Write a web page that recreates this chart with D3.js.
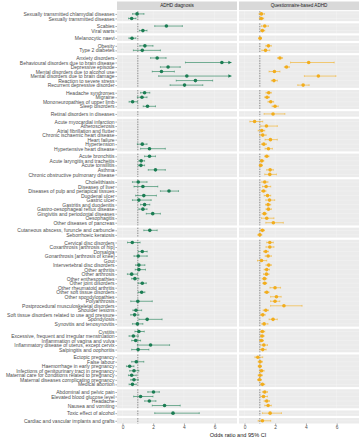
<!DOCTYPE html>
<html>
<head>
<meta charset="utf-8">
<script src="https://cdn.jsdelivr.net/npm/d3@7"></script>
<style>
  body { margin: 0; background: #fff; }
  text { font-family: "Liberation Sans", Arial, sans-serif; }
</style>
</head>
<body>
<div id="chart"></div>
<script>
// condition groups (one facet row each)
const groups = [
  ["Sexually transmitted chlamydial diseases", "Sexually transmitted diseases"],
  ["Scabies", "Viral warts"],
  ["Melanocytic naevi"],
  ["Obesity", "Type 2 diabetes"],
  ["Anxiety disorders", "Behavioural disorders due to brain disease", "Depressive episode",
   "Mental disorders due to alcohol use", "Mental disorders due to brain damage",
   "Reaction to severe stress", "Recurrent depressive disorder"],
  ["Headache syndromes", "Migraine", "Mononeuropathies of upper limb", "Sleep disorders"],
  ["Retinal disorders in diseases"],
  ["Acute myocardial infarction", "Atherosclerosis", "Atrial fibrillation and flutter",
   "Chronic ischaemic heart disease", "Heart failure", "Hypertension", "Hypertensive heart disease"],
  ["Acute bronchitis", "Acute laryngitis and tracheitis", "Acute tonsillitis", "Asthma",
   "Chronic obstructive pulmonary disease"],
  ["Cholelithiasis", "Diseases of liver", "Diseases of pulp and periapical tissues", "Duodenal ulcer",
   "Gastric ulcer", "Gastritis and duodenitis", "Gastro-oesophageal reflux disease",
   "Gingivitis and periodontal diseases", "Oesophagitis", "Other diseases of pancreas"],
  ["Cutaneous abscess, furuncle and carbuncle", "Seborrhoeic keratosis"],
  ["Cervical disc disorders", "Coxarthrosis [arthrosis of hip]", "Dorsalgia",
   "Gonarthrosis [arthrosis of knee]", "Gout", "Intervertebral disc disorders", "Other arthritis",
   "Other arthrosis", "Other enthesopathies", "Other joint disorders", "Other rheumatoid arthritis",
   "Other soft tissue disorders", "Other spondylopathies", "Polyarthrosis",
   "Postprocedural musculoskeletal disorders", "Shoulder lesions",
   "Soft tissue disorders related to use and pressure", "Spondylosis", "Synovitis and tenosynovitis"],
  ["Cystitis", "Excessive, frequent and irregular menstruation", "Inflammation of vagina and vulva",
   "Inflammatory disease of uterus, except cervix", "Salpingitis and oophoritis"],
  ["Ectopic pregnancy", "False labour", "Haemorrhage in early pregnancy",
   "Infections of genitourinary tract in pregnancy", "Maternal care for conditions related to pregnancy",
   "Maternal diseases complicating pregnancy", "Medical abortion"],
  ["Abdominal and pelvic pain", "Elevated blood glucose level", "Headache", "Nausea and vomiting"],
  ["Toxic effect of alcohol"],
  ["Cardiac and vascular implants and grafts"]
];

const panelNames = ["ADHD diagnosis", "Questionnaire-based ADHD"];

// ADHD diagnosis: odds ratio, lower and upper 95% CI (null = not estimated)
const adhdOR = [0.95, 0.6, 2.86, 1.33, 0.62, 1.46, 1.29,
  2.26, 6.47, 2.97, 2.54, 4.19, 4.75, 4.04,
  1.44, 1.27, 0.66, 1.63, null,
  null, null, null, null, null, 1.29, 1.76,
  1.76, 1.22, 1.2, 2.15, null,
  1.03, 1.33, 3.03, 1.39, 1.07, 1.44, 1.33, 1.97, null, null,
  1.78, null,
  0.64, null, 1.29, 1.03, null, 1.07, 1.07, 0.6, 0.81, 1.29, null, 1.25, null, 1.0, null, 0.88, 0.79, 1.61, 0.97,
  1.07, 0.71, 0.86, 1.83, 1.02,
  null, 0.9, 0.47, 0.75, 0.6, 0.75, 0.65,
  2.02, 1.18, 1.75, 2.74,
  3.29, null];
const adhdLo = [0.66, 0.4, 2.1, 1.1, 0.42, 1.13, 0.71,
  1.83, 4.1, 2.47, 1.94, 2.36, 3.5, 3.1,
  1.18, 0.97, 0.43, 1.35, null,
  null, null, null, null, null, 0.97, 1.18,
  1.44, 1.07, 1.02, 1.68, null,
  0.65, 0.75, 2.47, 0.86, 0.65, 1.18, 1.07, 1.55, null, null,
  1.39, null,
  0.33, null, 1.03, 0.75, null, 0.86, 0.83, 0.32, 0.6, 1.03, null, 1.03, null, 0.54, null, 0.68, 0.54, 1.07, 0.65,
  0.81, 0.43, 0.6, 0.97, 0.6,
  null, 0.6, 0.26, 0.47, 0.39, 0.54, 0.43,
  1.65, 0.73, 1.45, 1.94,
  2.1, null];
const adhdHi = [1.4, 0.88, 3.9, 1.6, 0.87, 1.99, 2.47,
  2.84, 8.5, 3.76, 3.38, 8.5, 5.87, 5.23,
  1.78, 1.6, 0.97, 2.15, null,
  null, null, null, null, null, 1.6, 2.79,
  2.15, 1.44, 1.44, 2.79, null,
  1.6, 2.3, 3.65, 2.21, 1.87, 1.78, 1.6, 2.47, null, null,
  2.26, null,
  1.15, null, 1.61, 1.61, null, 1.46, 1.5, 0.97, 1.07, 1.55, null, 1.46, null, 1.94, null, 1.25, 1.07, 2.58, 1.33,
  1.42, 1.03, 1.18, 3.07, 1.72,
  null, 1.39, 0.75, 1.07, 0.9, 1.03, 0.9,
  2.4, 1.99, 2.18, 3.76,
  5.0, null];

// Questionnaire-based ADHD
const qOR = [1.1, 1.1, 1.32, 1.17, 1.02, 1.56, 1.37,
  2.31, 4.18, 2.74, 1.95, 4.81, 1.92, 3.82,
  1.58, 1.47, 1.71, 1.99, 1.86,
  0.66, 1.43, 1.13, 1.19, 1.69, 1.26, 1.56,
  1.45, 1.13, 1.06, 1.67, 1.65,
  1.32, 1.41, 1.24, 1.5, 1.63, 1.54, 1.56, 1.3, 1.45, 1.88,
  1.17, 1.0,
  1.65, 1.65, 1.39, 1.54, 1.11, 1.58, 1.45, 1.43, 1.3, 1.32, 1.99, 1.45, 2.08, 1.99, 2.57, 1.39, 1.19, 1.86, 1.28,
  1.17, 1.15, 1.11, 1.26, 1.19,
  0.87, 1.02, 1.0, 1.11, 1.02, 0.98, 1.17,
  1.32, 1.24, 1.45, 1.54,
  1.67, 1.17];
const qLo = [0.95, 0.97, 1.1, 1.06, 0.95, 1.39, 1.13,
  2.16, 3.0, 2.6, 1.6, 3.9, 1.75, 3.47,
  1.4, 1.32, 1.53, 1.8, 1.28,
  0.35, 1.06, 0.89, 1.0, 1.34, 1.11, 1.34,
  1.32, 1.03, 0.97, 1.45, 1.32,
  1.13, 1.17, 1.11, 1.28, 1.39, 1.37, 1.4, 1.15, 1.11, 1.39,
  1.04, 0.87,
  1.45, 1.4, 1.24, 1.35, 0.85, 1.4, 1.28, 1.24, 1.15, 1.2, 1.66, 1.3, 1.7, 1.7, 1.7, 1.22, 1.04, 1.6, 1.13,
  1.04, 1.04, 0.99, 1.06, 1.02,
  0.68, 0.89, 0.89, 0.97, 0.89, 0.85, 1.06,
  1.17, 1.06, 1.28, 1.32,
  1.17, 0.89];
const qHi = [1.3, 1.25, 1.56, 1.32, 1.1, 1.75, 1.65,
  2.48, 5.84, 2.92, 2.31, 5.95, 2.14, 4.21,
  1.75, 1.63, 1.9, 2.2, 2.63,
  1.19, 2.14, 1.32, 1.41, 2.14, 1.43, 1.82,
  1.6, 1.26, 1.16, 1.88, 2.08,
  1.53, 1.71, 1.4, 1.71, 1.97, 1.71, 1.75, 1.45, 1.92, 2.53,
  1.3, 1.13,
  1.88, 1.92, 1.56, 1.75, 1.45, 1.75, 1.63, 1.6, 1.45, 1.45, 2.35, 1.6, 2.39, 2.3, 3.75, 1.56, 1.35, 2.14, 1.53,
  1.32, 1.28, 1.24, 1.5, 1.41,
  1.19, 1.17, 1.11, 1.28, 1.17, 1.11, 1.32,
  1.5, 1.5, 1.63, 1.75,
  2.41, 1.71];

const xTicks = [0, 2, 4, 6];
const xLimit = 7.1;   // CIs beyond this are cut and get an arrow

const width = 362, height = 440;
const colours = ["#1b7d53", "#f2ad1c"];

const svg = d3.select("#chart").append("svg")
  .attr("width", width)
  .attr("height", height);

// layout
const panelTop = 11.2, panelBottom = 423.5, gap = 2.2;
const cols = [[117, 237], [239, 359]];
const units = d3.sum(groups, g => g.length + 0.2);
const unit = (panelBottom - panelTop - gap * (groups.length - 1)) / units;

const x = cols.map(c => d3.scaleLinear().domain([-0.355, 7.455]).range(c));

// flat rows with y scale per group
let rows = [];
let yTop = panelTop;
const panels = groups.map(g => {
  const h = (g.length + 0.2) * unit;
  const y = d3.scalePoint().domain(g).range([yTop, yTop + h]).padding(0.6);
  const p = { labels: g, y: y, top: yTop, h: h };
  g.forEach(l => rows.push({ label: l, y: y(l) }));
  yTop += h + gap;
  return p;
});

const series = [
  { or: adhdOR, lo: adhdLo, hi: adhdHi },
  { or: qOR, lo: qLo, hi: qHi }
];

// strips
cols.forEach((c, i) => {
  svg.append("rect")
    .attr("x", c[0]).attr("y", 1.5)
    .attr("width", c[1] - c[0]).attr("height", panelTop - 2.6)
    .attr("fill", "#d9d9d9");
  svg.append("text")
    .attr("x", (c[0] + c[1]) / 2).attr("y", 6.6)
    .attr("text-anchor", "middle")
    .attr("font-size", 4.6)
    .attr("fill", "#1a1a1a")
    .text(panelNames[i]);
});

// panels
panels.forEach(p => {
  cols.forEach((c, i) => {
    const g = svg.append("g");
    g.append("rect")
      .attr("x", c[0]).attr("y", p.top)
      .attr("width", c[1] - c[0]).attr("height", p.h)
      .attr("fill", "#ebebeb");
    // grid
    g.selectAll(".vg").data(xTicks).enter().append("line")
      .attr("x1", d => x[i](d)).attr("x2", d => x[i](d))
      .attr("y1", p.top).attr("y2", p.top + p.h)
      .attr("stroke", "#fff").attr("stroke-width", 0.4).attr("stroke-opacity", 0.6);
    g.selectAll(".hg").data(p.labels).enter().append("line")
      .attr("x1", c[0]).attr("x2", c[1])
      .attr("y1", d => p.y(d)).attr("y2", d => p.y(d))
      .attr("stroke", "#fff").attr("stroke-width", 0.4).attr("stroke-opacity", 0.6);
    // reference line at OR = 1
    g.append("line")
      .attr("x1", x[i](1)).attr("x2", x[i](1))
      .attr("y1", p.top).attr("y2", p.top + p.h)
      .attr("stroke", "#444").attr("stroke-width", 0.6)
      .attr("stroke-dasharray", "1.4,1.1");
  });

  // y axis on the left column
  const ax = svg.append("g")
    .attr("transform", `translate(${cols[0][0]},0)`)
    .call(d3.axisLeft(p.y).tickSize(1.6).tickPadding(0.8));
  ax.select(".domain").remove();
  ax.selectAll("line").attr("stroke", "#333").attr("stroke-width", 0.4);
  ax.selectAll("text")
    .attr("font-size", 5)
    .attr("fill", "#4d4d4d")
    .attr("font-family", "'Liberation Sans', Arial, sans-serif");
});

// estimates and CIs
series.forEach((s, i) => {
  const pts = rows.map((r, k) => ({ y: r.y, or: s.or[k], lo: s.lo[k], hi: s.hi[k] }))
    .filter(d => d.or != null);
  const g = svg.append("g").attr("fill", colours[i]).attr("stroke", colours[i]);

  g.selectAll(".ci").data(pts).enter().append("line")
    .attr("x1", d => x[i](d.lo))
    .attr("x2", d => x[i](Math.min(d.hi, xLimit)))
    .attr("y1", d => d.y).attr("y2", d => d.y)
    .attr("stroke-width", 0.6);

  g.selectAll(".capl").data(pts).enter().append("line")
    .attr("x1", d => x[i](d.lo)).attr("x2", d => x[i](d.lo))
    .attr("y1", d => d.y - 0.9).attr("y2", d => d.y + 0.9)
    .attr("stroke-width", 0.5);
  g.selectAll(".caph").data(pts.filter(d => d.hi <= xLimit)).enter().append("line")
    .attr("x1", d => x[i](d.hi)).attr("x2", d => x[i](d.hi))
    .attr("y1", d => d.y - 0.9).attr("y2", d => d.y + 0.9)
    .attr("stroke-width", 0.5);

  // arrows where the CI runs off the scale
  g.selectAll(".arrow").data(pts.filter(d => d.hi > xLimit)).enter().append("path")
    .attr("d", d => {
      const ax = x[i](xLimit);
      return `M${ax},${d.y}L${ax - 3.2},${d.y - 1.7}L${ax - 3.2},${d.y + 1.7}Z`;
    })
    .attr("stroke", "none");

  g.selectAll("circle").data(pts).enter().append("circle")
    .attr("cx", d => x[i](d.or))
    .attr("cy", d => d.y)
    .attr("r", 1.8)
    .attr("stroke", "none");
});

// x axes
cols.forEach((c, i) => {
  const ax = svg.append("g")
    .attr("transform", `translate(0,${panelBottom})`)
    .call(d3.axisBottom(x[i]).tickValues(xTicks).tickSize(1.6).tickPadding(0.8));
  ax.select(".domain").remove();
  ax.selectAll("line").attr("stroke", "#333").attr("stroke-width", 0.4);
  ax.selectAll("text")
    .attr("font-size", 4.8)
    .attr("fill", "#4d4d4d")
    .attr("font-family", "'Liberation Sans', Arial, sans-serif");
});

svg.append("text")
  .attr("x", (cols[0][0] + cols[1][1]) / 2)
  .attr("y", 436.5)
  .attr("text-anchor", "middle")
  .attr("font-size", 5.6)
  .attr("fill", "#1a1a1a")
  .text("Odds ratio and 95% CI");
</script>
</body>
</html>
